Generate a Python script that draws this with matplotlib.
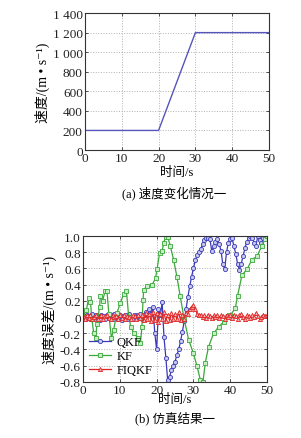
import numpy as np
import matplotlib
matplotlib.use('Agg')
from matplotlib import pyplot as plt

plt.rcParams['font.family'] = ['Liberation Serif', 'Noto Sans CJK SC', 'DejaVu Serif']
plt.rcParams['font.size'] = 9.5
plt.rcParams['axes.unicode_minus'] = False

# (a) speed profile
t_speed = [0, 20, 30, 50]
speed = [200, 200, 1200, 1200]
speed_ticks = [0, 200, 400, 600, 800, 1000, 1200, 1400]
speed_ticklabels = ['0', '200', '400', '600', '800', '1 000', '1 200', '1 400']

# (b) velocity error curves
t_qkf = list(np.arange(0, 50.5, 0.5))
qkf = [0.02, -0.03, 0.03, 0.01, -0.02, 0.04, -0.03, 0.02, 0.0, -0.04,
       0.03, 0.01, -0.02, 0.03, -0.01, 0.02, -0.03, 0.04, 0.0, -0.02,
       0.03, -0.04, 0.01, 0.02, -0.03, 0.04, 0.0, -0.02, 0.03, -0.01,
       0.02, 0.04, -0.02, 0.03, 0.06, 0.02, 0.1, 0.04, 0.12, -0.2,
       -0.4, 0.1, 0.02, 0.18, -0.25, -0.5, -0.78, -0.74, -0.66, -0.6,
       -0.55, -0.47, -0.4, -0.3, -0.18, -0.05, 0.1, 0.25, 0.38, 0.5,
       0.6, 0.7, 0.76, 0.8, 0.84, 0.9, 0.95, 0.98, 0.97, 0.96,
       0.81, 0.88, 0.93, 0.96, 0.9, 0.82, 0.65, 0.59, 0.8, 0.92,
       0.96, 0.97, 0.88, 0.78, 0.66, 0.58, 0.66, 0.75, 0.85, 0.93,
       0.97, 1.0, 0.98, 0.92, 0.88, 1.0, 0.95, 0.92, 0.97, 1.0, 1.0]

t_kf = [0, 0.9, 1.5, 2, 2.4, 2.9, 3.4, 3.8, 4.5, 4.7, 5.3, 6, 6.5, 7, 7.7,
        8.3, 9.2, 10.1, 11, 11.8, 12.4, 13, 13.8, 14.9, 15.6, 16, 16.3,
        16.5, 17.4, 18.8, 19.7, 20.1, 20.8, 21.5, 21.9, 22.5, 23, 23.7,
        24.6, 25.5, 26.4, 27.5, 28.7, 30, 31, 31.9, 32.6, 33.2, 34.1,
        35.5, 36.9, 38.2, 40, 41.4, 42, 43.2, 44.6, 45.9, 47.3, 48.6,
        49.5, 50]
kf = [0.0, 0.09, 0.23, 0.19, -0.03, -0.2, -0.26, -0.08, 0.13, 0.26, 0.2,
      0.32, 0.32, 0.04, -0.26, -0.16, 0.05, 0.17, 0.28, 0.32, 0.0, -0.12,
      -0.2, -0.26, -0.32, -0.12, 0.21, 0.34, 0.38, 0.4, 0.48, 0.59, 0.79,
      0.81, 0.92, 0.99, 0.99, 0.88, 0.71, 0.5, 0.26, -0.03, -0.28, -0.45,
      -0.61, -0.78, -0.8, -0.57, -0.37, -0.2, -0.12, -0.06, 0.02, 0.11,
      0.26, 0.52, 0.59, 0.71, 0.75, 0.88, 0.96, 1.0]

t_fiqkf = list(np.arange(0, 50.5, 0.5))
fiqkf = [0.01, -0.02, 0.02, -0.01, 0.03, -0.02, 0.0, 0.02, -0.03, 0.01,
         0.02, -0.02, 0.01, 0.03, -0.01, -0.03, 0.02, 0.0, 0.01, -0.02,
         0.02, -0.01, 0.03, -0.02, 0.01, 0.0, -0.03, 0.02, 0.01, -0.02,
         0.03, -0.01, 0.02, -0.04, 0.05, -0.03, 0.04, -0.05, 0.06, -0.04,
         0.05, -0.06, 0.04, -0.03, 0.06, -0.05, 0.03, -0.04, 0.05, -0.02,
         0.04, -0.03, 0.06, -0.04, 0.03, -0.02, 0.05, 0.04, 0.1, 0.13,
         0.15, 0.1, 0.04, 0.02, 0.03, 0.0, 0.02, -0.01, 0.03, 0.01,
         -0.01, 0.02, 0.0, 0.03, -0.01, 0.02, 0.01, -0.02, 0.03, 0.0,
         0.02, -0.01, 0.03, 0.01, -0.02, 0.02, 0.04, 0.0, -0.02, 0.02,
         0.01, -0.01, 0.02, 0.0, 0.05, 0.01, -0.02, 0.0, 0.03, 0.01, 0.02]

err_ticks = [-0.8, -0.6, -0.4, -0.2, 0, 0.2, 0.4, 0.6, 0.8, 1.0]
err_ticklabels = ['-0.8', '-0.6', '-0.4', '-0.2', '0', '0.2', '0.4', '0.6', '0.8', '1.0']
x_ticks = [0, 10, 20, 30, 40, 50]

fig = plt.figure(figsize=(3.01, 4.39), dpi=100)


def style(ax):
    ax.grid(True, linestyle=':', color='#b0b0b0', linewidth=0.7)
    ax.tick_params(direction='in', length=2.5, width=0.6, top=True, right=True,
                   pad=1.5, colors='#333333', labelcolor='#222222')
    for s in ax.spines.values():
        s.set_color('#333333')
        s.set_linewidth(0.8)


ax1 = fig.add_axes([0.282, 0.656, 0.612, 0.312])
ax1.plot(t_speed, speed, color='#5555bb', linewidth=1.0)
ax1.set_xlim(0, 50)
ax1.set_ylim(0, 1400)
ax1.set_xticks(x_ticks)
ax1.set_yticks(speed_ticks)
ax1.set_yticklabels(speed_ticklabels)
style(ax1)
ax1.set_xlabel('时间/s', fontsize=9, va='center')
ax1.xaxis.set_label_coords(0.5, -0.16)
ax1.set_ylabel('速度/(m • s⁻¹)', fontsize=10, labelpad=2)
fig.text(0.58, 0.56, '(a) 速度变化情况一', ha='center', va='center', fontsize=9)

ax2 = fig.add_axes([0.276, 0.128, 0.611, 0.332])
ax2.plot(t_qkf, qkf, color='#3a3ab8', linewidth=0.9, marker='o', markersize=3,
         markerfacecolor='#c8c8ee', markeredgewidth=0.6, label='QKF')
ax2.plot(t_kf, kf, color='#3aa83a', linewidth=0.9, marker='s', markersize=3,
         markerfacecolor='#c8eec8', markeredgewidth=0.6, label='KF')
ax2.plot(t_fiqkf, fiqkf, color='#e02525', linewidth=0.9, marker='^', markersize=3,
         markerfacecolor='#f5b0b0', markeredgewidth=0.6, label='FIQKF')
ax2.set_xlim(0, 50)
ax2.set_ylim(-0.8, 1.0)
ax2.set_xticks(x_ticks)
ax2.set_yticks(err_ticks)
ax2.set_yticklabels(err_ticklabels)
style(ax2)
ax2.set_xlabel('时间/s', fontsize=9, va='center')
ax2.xaxis.set_label_coords(0.5, -0.12)
ax2.set_ylabel('速度误差/(m • s⁻¹)', fontsize=10, labelpad=2)
ax2.legend(loc='lower left', frameon=False, fontsize=9, handlelength=1.8,
           handletextpad=0.4, labelspacing=0.15, borderaxespad=0.05)
fig.text(0.58, 0.048, '(b) 仿真结果一', ha='center', va='center', fontsize=9)

fig.savefig('out.png', dpi=100)
